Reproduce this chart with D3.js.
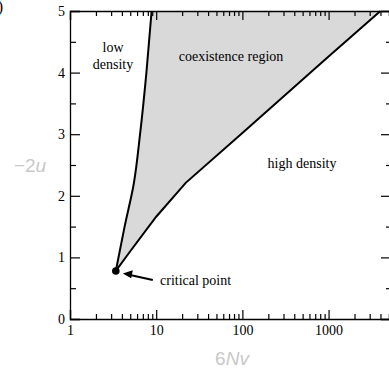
<!DOCTYPE html>
<html>
<head>
<meta charset="utf-8">
<script src="https://cdn.jsdelivr.net/npm/d3@7"></script>
<style>
  body { margin: 0; background: #fff; }
  svg { display: block; }
</style>
</head>
<body>
<div id="grafico"></div>
<script>
// Dados
const criticoX = [3.4];
const criticoY = [0.78];

// fronteira da fase de baixa densidade (linha da esquerda)
const baixaX = [3.4, 4.3, 5.5, 6.5, 7.7, 8.85];
const baixaY = [0.78, 1.5, 2.2, 3.0, 4.0, 5.0];

// fronteira da fase de alta densidade (linha de baixo)
const altaX = [3.4, 5, 10, 22, 100, 1000, 4000];
const altaY = [0.78, 1.1, 1.66, 2.21, 3.02, 4.26, 5.0];

const xMajor = [1, 10, 100, 1000];
const xTickLabels = ["1", "10", "100", "1000"];
const yMajor = [0, 1, 2, 3, 4, 5];

const largura = 389, altura = 368;
const margin = { top: 11, right: -2, bottom: 49, left: 70 };

const svg = d3.select("#grafico")
    .append("svg")
    .attr("width", largura)
    .attr("height", altura);

const x = d3.scaleLog()
    .domain([1, 5300])
    .range([margin.left, largura - margin.right]);

const y = d3.scaleLinear()
    .domain([0, 5])
    .range([altura - margin.bottom, margin.top]);

// ticks menores do eixo log
const xTodos = [];
[1, 10, 100, 1000].forEach(d => {
    for (let k = 1; k <= 9; k++) {
        const v = d * k;
        if (v <= 5000) xTodos.push(v);
    }
});
const yTodos = d3.range(0, 5.01, 0.5);

const ehMajorX = v => xMajor.includes(v);
const ehMajorY = v => yMajor.includes(v);

// Região de coexistência
const baixa = baixaX.map((v, i) => [v, baixaY[i]]);
const alta = altaX.map((v, i) => [v, altaY[i]]);

const linha = d3.line().x(d => x(d[0])).y(d => y(d[1]));
const linhaSuave = d3.line().x(d => x(d[0])).y(d => y(d[1])).curve(d3.curveMonotoneY);

svg.append("path")
    .attr("d", linhaSuave(baixa) + "L" + linha(alta.slice().reverse()).slice(1) + "Z")
    .attr("fill", "#d9d9d9")
    .attr("stroke", "none");

svg.append("path")
    .attr("d", linhaSuave(baixa))
    .attr("fill", "none")
    .attr("stroke", "#000")
    .attr("stroke-width", 2);

svg.append("path")
    .attr("d", linha(alta))
    .attr("fill", "none")
    .attr("stroke", "#000")
    .attr("stroke-width", 2);

// Eixos
const fonteSerif = "'Liberation Serif', 'Times New Roman', serif";

const estilo = g => {
    g.select(".domain").attr("stroke", "#000").attr("stroke-width", 1.3);
    g.selectAll(".tick line")
        .attr("stroke", "#000")
        .attr("stroke-width", 1.2);
    g.selectAll("text")
        .style("font-family", fonteSerif)
        .style("font-size", "14px")
        .attr("fill", "#000");
};

const eixoX = svg.append("g")
    .attr("transform", `translate(0, ${y(0)})`)
    .call(d3.axisBottom(x).tickValues(xTodos).tickSize(-9).tickPadding(6)
        .tickFormat(d => ehMajorX(d) ? xTickLabels[xMajor.indexOf(d)] : ""));
estilo(eixoX);
eixoX.selectAll(".tick line").attr("y2", d => ehMajorX(d) ? -9 : -5);

const eixoXTopo = svg.append("g")
    .attr("transform", `translate(0, ${y(5)})`)
    .call(d3.axisTop(x).tickValues(xTodos).tickSize(-9).tickFormat(""));
estilo(eixoXTopo);
eixoXTopo.selectAll(".tick line").attr("y2", d => ehMajorX(d) ? 9 : 5);

const eixoY = svg.append("g")
    .attr("transform", `translate(${x(1)}, 0)`)
    .call(d3.axisLeft(y).tickValues(yTodos).tickSize(-10).tickPadding(5)
        .tickFormat(d => ehMajorY(d) ? d3.format("d")(d) : ""));
estilo(eixoY);
eixoY.selectAll(".tick line").attr("x2", d => ehMajorY(d) ? 10 : 6);

const eixoYDir = svg.append("g")
    .attr("transform", `translate(${x(5300)}, 0)`)
    .call(d3.axisRight(y).tickValues(yTodos).tickSize(-10).tickFormat(""));
estilo(eixoYDir);
eixoYDir.selectAll(".tick line").attr("x2", d => ehMajorY(d) ? -10 : -5);

// Ponto crítico
const cx = x(criticoX[0]), cy = y(criticoY[0]);
svg.append("circle")
    .attr("cx", cx).attr("cy", cy).attr("r", 3.8)
    .attr("fill", "#000");

svg.append("line")
    .attr("x1", cx + 37).attr("y1", cy + 9)
    .attr("x2", cx + 12).attr("y2", cy + 3.5)
    .attr("stroke", "#000")
    .attr("stroke-width", 2);

svg.append("path")
    .attr("d", `M${cx + 7},${cy + 2.6} L${cx + 17},${cy - 0.8} L${cx + 15.4},${cy + 7.2} Z`)
    .attr("fill", "#000");

// Textos
const texto = (tx, ty, t, ancora = "middle") => svg.append("text")
    .attr("x", tx).attr("y", ty)
    .attr("text-anchor", ancora)
    .style("font-family", fonteSerif)
    .style("font-size", "14px")
    .attr("fill", "#000")
    .text(t);

texto(113, 52, "low");
texto(113, 69, "density");
texto(231, 61, "coexistence region");
texto(302, 168, "high density");
texto(160, 285, "critical point", "start");

// rótulo do painel (cortado na borda)
svg.append("text")
    .attr("x", 3).attr("y", 12)
    .attr("text-anchor", "end")
    .style("font-family", fonteSerif)
    .style("font-size", "16px")
    .text("(b)");

// Rótulos dos eixos
const fonteSans = "'Liberation Sans', Arial, sans-serif";
const rotY = svg.append("text")
    .attr("x", 30).attr("y", 172)
    .attr("text-anchor", "middle")
    .style("font-family", fonteSans)
    .style("font-size", "19px")
    .attr("fill", "#c8c8c8");
rotY.append("tspan").text("\u22122");
rotY.append("tspan").style("font-style", "italic").text("u");

const rotX = svg.append("text")
    .attr("x", 232).attr("y", 365)
    .attr("text-anchor", "middle")
    .style("font-family", fonteSans)
    .style("font-size", "19px")
    .attr("fill", "#c8c8c8");
rotX.append("tspan").text("6");
rotX.append("tspan").style("font-style", "italic").text("Nv");
</script>
</body>
</html>
